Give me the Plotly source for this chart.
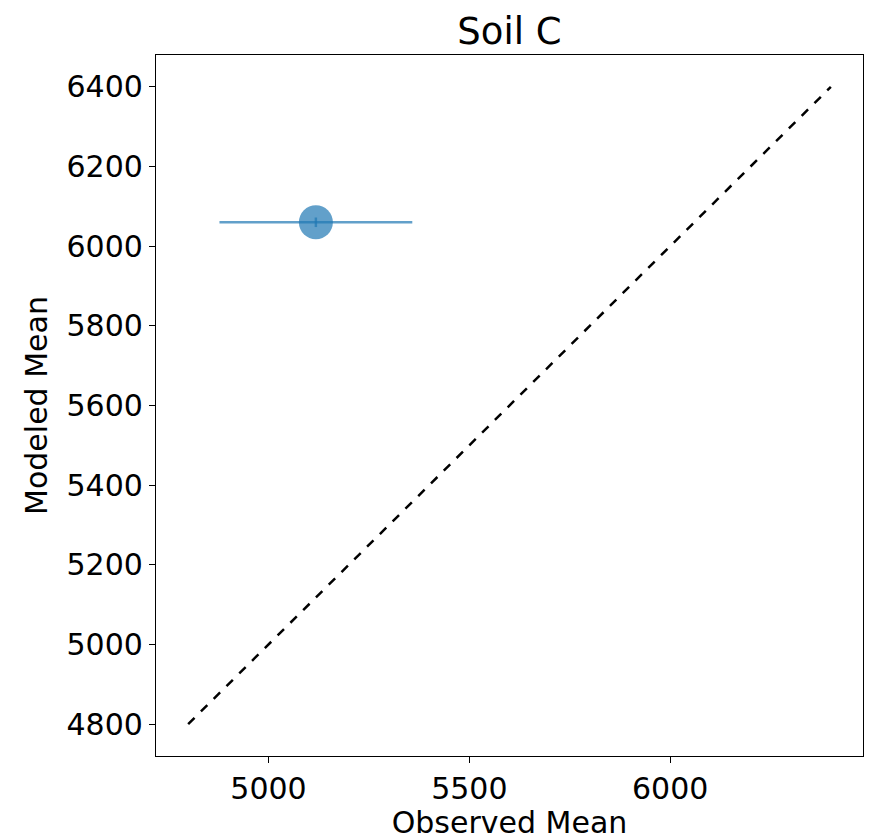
import plotly.graph_objects as go

# Data
obs_mean = [5118]
mod_mean = [6060]
obs_err = [240]
mod_err = [12]
one_to_one = [4800, 6400]

x_ticks = [5000, 5500, 6000]
y_ticks = [4800, 5000, 5200, 5400, 5600, 5800, 6000, 6200, 6400]

blue = "rgba(31,119,180,0.7)"
font = "DejaVu Sans"

fig = go.Figure()
fig.add_trace(go.Scatter(
    x=one_to_one, y=one_to_one, mode="lines",
    line=dict(color="black", width=2.5, dash="dash"),
    showlegend=False, hoverinfo="skip"))
fig.add_trace(go.Scatter(
    x=obs_mean, y=mod_mean, mode="markers",
    marker=dict(size=34, color=blue, line=dict(width=0)),
    error_x=dict(type="data", array=obs_err, color=blue, thickness=2.5, width=0),
    error_y=dict(type="data", array=mod_err, color=blue, thickness=2.5, width=0),
    showlegend=False))

axis_common = dict(
    showgrid=False, zeroline=False, showline=True, linecolor="black",
    linewidth=1.2, mirror=True, ticks="outside", ticklen=6, tickwidth=1.2,
    tickcolor="black", tickfont=dict(family=font, size=30, color="black"),
)
fig.update_xaxes(range=[4720, 6480], tickvals=x_ticks,
                 title=dict(text="Observed Mean", font=dict(family=font, size=30, color="black"), standoff=8),
                 **axis_common)
fig.update_yaxes(range=[4720, 6480], tickvals=y_ticks,
                 title=dict(text="Modeled Mean", font=dict(family=font, size=30, color="black"), standoff=10),
                 **axis_common)

fig.update_layout(
    width=869, height=840,
    margin=dict(l=156, r=5, t=55, b=80),
    plot_bgcolor="white", paper_bgcolor="white",
    title=dict(text="Soil C", x=0.5, xanchor="center", xref="paper",
               y=1 - 31 / 840, yanchor="middle",
               font=dict(family=font, size=37, color="black")),
    font=dict(family=font, color="black"),
)

fig.write_html("out.html")
